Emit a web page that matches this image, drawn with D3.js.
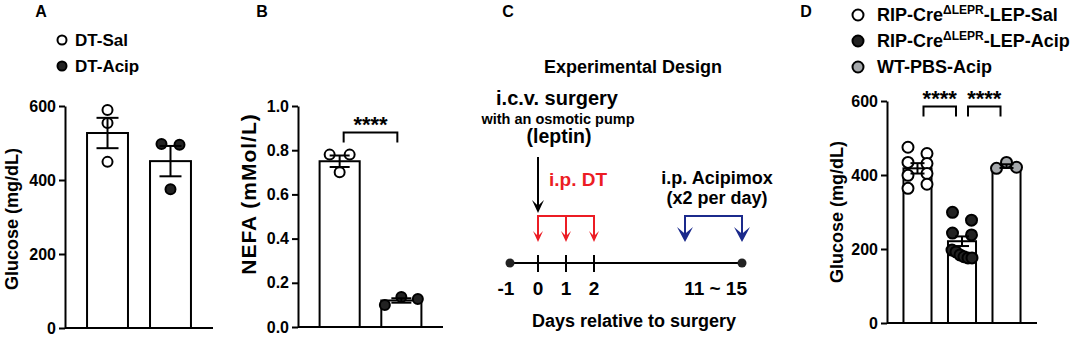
<!DOCTYPE html>
<html>
<head>
<meta charset="utf-8">
<script src="https://cdn.jsdelivr.net/npm/d3@7"></script>
<style>
  body { margin: 0; background: #fff; }
  svg { font-family: "Liberation Sans", Arial, sans-serif; font-weight: bold; }
</style>
</head>
<body>
<div id="chart"></div>
<script>
// ---- data ----
// A: glucose, DT-Sal vs DT-Acip
const groupsA = ["DT-Sal", "DT-Acip"];
const glucoseA = [[589, 554, 449], [497, 495, 375]];
const meanA = [527, 451];
const semA = [41, 41];
const ticksA = [0, 200, 400, 600];

// B: NEFA
const nefaB = [[0.78, 0.78, 0.70], [0.10, 0.136, 0.127]];
const meanB = [0.75, 0.12];
const semB = [0.026, 0.01];
const ticksB = [0, 0.2, 0.4, 0.6, 0.8, 1.0];
const sigB = [[0, 1, "****"]];

// C: timeline
const timelineEnds = [-1, 15];
const dayTicks = [0, 1, 2];
const dayLabels = [-1, 0, 1, 2];
const surgeryDay = 0;
const dtDays = [0, 1, 2];
const acipDays = [11, 15];

// D: glucose, three groups
const groupsD = ["RIP-Cre|ΔLEPR|-LEP-Sal", "RIP-Cre|ΔLEPR|-LEP-Acip", "WT-PBS-Acip"];
const glucoseD = [
  [475, 458, 434, 431, 399, 404, 364, 375],
  [299, 278, 243, 238, 197, 192, 184, 179, 176, 176],
  [418, 434, 421]
];
const meanD = [418, 221, 424];
const semD = [14, 13, 5];
const ticksD = [0, 200, 400, 600];
const sigD = [[0, 1, "****"], [1, 2, "****"]];

const width = 1074, height = 337;

const svg = d3.select("#chart")
  .append("svg")
  .attr("width", width)
  .attr("height", height)
  .attr("viewBox", [0, 0, width, height]);

// spread points of a group sideways, GraphPad style
function dodge(vals, y, r, gap, spread) {
  const order = vals.map((v, i) => i).sort((a, b) => vals[b] - vals[a]);
  const rows = [];
  let cur = null;
  order.forEach(i => {
    const py = y(vals[i]);
    if (cur && py - cur.y0 < r * 1.6) cur.items.push(i);
    else { cur = {y0: py, items: [i]}; rows.push(cur); }
  });
  const off = vals.map(() => 0);
  rows.forEach(row => {
    row.items.sort((a, b) => a - b);
    const n = row.items.length;
    const s = n > 1 ? Math.min(gap, spread / (n - 1)) : 0;
    row.items.forEach((i, k) => off[i] = (k - (n - 1) / 2) * s);
  });
  return off;
}

function barPanel(o) {
  const g = svg.append("g");
  const x = d3.scaleBand()
    .domain(d3.range(o.means.length))
    .range([o.left, o.right])
    .padding(o.pad);
  const y = d3.scaleLinear()
    .domain([0, o.max])
    .range([o.bottom, o.top]);

  // bars
  g.selectAll(".bar")
    .data(o.means)
    .join("rect")
    .attr("x", (d, i) => x(i))
    .attr("width", x.bandwidth())
    .attr("y", d => y(d))
    .attr("height", d => y(0) - y(d))
    .attr("fill", "#fff")
    .attr("stroke", "#000")
    .attr("stroke-width", 2);

  // points
  o.points.forEach((vals, i) => {
    const off = dodge(vals, y, o.r, o.gap, o.spread);
    const cx = x(i) + x.bandwidth() / 2;
    g.append("g").selectAll("circle")
      .data(vals)
      .join("circle")
      .attr("cx", (d, k) => cx + off[k])
      .attr("cy", d => y(d))
      .attr("r", o.r)
      .attr("fill", o.fills[i])
      .attr("stroke", "#000")
      .attr("stroke-width", 2);
  });

  // error bars
  o.means.forEach((m, i) => {
    const cx = x(i) + x.bandwidth() / 2;
    const lo = y(m - o.sem[i]), hi = y(m + o.sem[i]);
    const eb = g.append("g").attr("stroke", "#000").attr("stroke-width", 2);
    eb.append("line").attr("x1", cx).attr("x2", cx).attr("y1", lo).attr("y2", hi);
    eb.append("line").attr("x1", cx - o.cap).attr("x2", cx + o.cap).attr("y1", lo).attr("y2", lo);
    eb.append("line").attr("x1", cx - o.cap).attr("x2", cx + o.cap).attr("y1", hi).attr("y2", hi);
  });

  // axes
  const yAxis = g.append("g")
    .attr("transform", `translate(${o.left},0)`)
    .call(d3.axisLeft(y).tickValues(o.ticks).tickFormat(o.fmt).tickSize(6).tickSizeOuter(0).tickPadding(3));
  yAxis.select(".domain").attr("stroke-width", 2);
  yAxis.selectAll(".tick line").attr("stroke-width", 2);
  yAxis.selectAll(".tick text")
    .attr("font-size", 16)
    .attr("font-family", "Liberation Sans, Arial, sans-serif")
    .attr("font-weight", "bold")
    .attr("fill", "#000");

  g.append("line")
    .attr("x1", o.left).attr("x2", o.right)
    .attr("y1", y(0)).attr("y2", y(0))
    .attr("stroke", "#000").attr("stroke-width", 2);

  g.append("text")
    .attr("transform", `translate(${o.labelX},${o.labelY}) rotate(-90)`)
    .attr("text-anchor", "middle")
    .attr("dy", "0.35em")
    .attr("font-size", o.labelSize || 18)
    .attr("letter-spacing", o.labelSpacing || 0)
    .text(o.label);

  // significance brackets
  (o.sig || []).forEach(([a, b, t]) => {
    const x1 = x(a) + x.bandwidth() / 2 + o.inset;
    const x2 = x(b) + x.bandwidth() / 2 - o.inset;
    const yb = y(o.sigLevel);
    g.append("path")
      .attr("d", `M${x1},${yb + 10}V${yb}H${x2}V${yb + 10}`)
      .attr("fill", "none").attr("stroke", "#000").attr("stroke-width", 2);
    g.append("text")
      .attr("x", (x1 + x2) / 2).attr("y", yb - 1)
      .attr("text-anchor", "middle")
      .attr("font-size", 22)
      .text(t);
  });
  return {x, y};
}

// panel letters
svg.selectAll(".letter")
  .data([["A", 41], ["B", 262], ["C", 508], ["D", 806]])
  .join("text")
  .attr("x", d => d[1]).attr("y", 17)
  .attr("text-anchor", "middle")
  .attr("font-size", 16)
  .text(d => d[0]);

// ---- A ----
barPanel({
  left: 65, right: 213, top: 106, bottom: 328, pad: 0.35,
  max: 600, ticks: ticksA, fmt: d3.format("d"),
  means: meanA, sem: semA, points: glucoseA, fills: ["#fff", "#222"],
  r: 5, gap: 18, spread: 30, cap: 11,
  label: "Glucose (mg/dL)", labelX: 12, labelY: 219
});
const legA = svg.append("g").selectAll("g")
  .data(groupsA)
  .join("g")
  .attr("transform", (d, i) => `translate(62,${40 + i * 26})`);
legA.append("circle").attr("r", 4.5)
  .attr("fill", (d, i) => ["#fff", "#222"][i])
  .attr("stroke", "#000").attr("stroke-width", 2);
legA.append("text").attr("x", 13).attr("y", 6).attr("font-size", 17).text(d => d);

// ---- B ----
barPanel({
  left: 298, right: 443, top: 106, bottom: 327, pad: 0.35,
  max: 1.0, ticks: ticksB, fmt: d3.format(".1f"),
  means: meanB, sem: semB, points: nefaB, fills: ["#fff", "#222"],
  r: 5, gap: 20, spread: 33, cap: 10,
  label: "NEFA (mMol/L)", labelX: 249, labelY: 194, labelSize: 21, labelSpacing: 1,
  sig: sigB, sigLevel: 0.88, inset: 4
});

// ---- C: timeline ----
const red = "#ec1c24", blue = "#1b2a8c";
const t = d3.scaleLinear().domain([-1, 2, 11, 15]).range([510, 594, 685, 742]);
const C = svg.append("g");
const lineY = 263, bracketY = 216, arrowTip = 242;

function head(xc, yt, w, h) {
  return `M${xc},${yt}L${xc - w},${yt - h}L${xc},${yt - h * 0.55}L${xc + w},${yt - h}Z`;
}

C.append("text").attr("x", 633).attr("y", 73).attr("text-anchor", "middle")
  .attr("font-size", 18).text("Experimental Design");
C.append("text").attr("x", 557).attr("y", 105).attr("text-anchor", "middle")
  .attr("font-size", 20).text("i.c.v. surgery");
C.append("text").attr("x", 558).attr("y", 124).attr("text-anchor", "middle")
  .attr("font-size", 14.5).text("with an osmotic pump");
C.append("text").attr("x", 559).attr("y", 143).attr("text-anchor", "middle")
  .attr("font-size", 19.5).text("(leptin)");

// surgery arrow
C.append("line").attr("x1", t(surgeryDay)).attr("x2", t(surgeryDay))
  .attr("y1", 157).attr("y2", 208).attr("stroke", "#000").attr("stroke-width", 2);
C.append("path").attr("d", head(t(surgeryDay), 213, 6, 13)).attr("fill", "#000");

// DT injections
C.append("text").attr("x", 578).attr("y", 186).attr("text-anchor", "middle")
  .attr("font-size", 19).attr("fill", red).text("i.p. DT");
C.append("path")
  .attr("d", `M${t(dtDays[0])},${arrowTip - 6}V${bracketY}H${t(dtDays[dtDays.length - 1])}V${arrowTip - 6}`)
  .attr("fill", "none").attr("stroke", red).attr("stroke-width", 2);
C.selectAll(".dt")
  .data(dtDays)
  .join("g")
  .call(s => s.append("line")
    .attr("x1", d => t(d)).attr("x2", d => t(d))
    .attr("y1", bracketY).attr("y2", arrowTip - 6)
    .attr("stroke", red).attr("stroke-width", 2))
  .call(s => s.append("path").attr("d", d => head(t(d), arrowTip, 5, 11)).attr("fill", red));

// Acipimox
C.append("text").attr("x", 717).attr("y", 184).attr("text-anchor", "middle")
  .attr("font-size", 18).text("i.p. Acipimox");
C.append("text").attr("x", 717).attr("y", 204).attr("text-anchor", "middle")
  .attr("font-size", 18).text("(x2 per day)");
C.append("path")
  .attr("d", `M${t(acipDays[0])},${arrowTip - 8}V${bracketY}H${t(acipDays[1])}V${arrowTip - 8}`)
  .attr("fill", "none").attr("stroke", blue).attr("stroke-width", 2);
C.selectAll(".acip")
  .data(acipDays)
  .join("path")
  .attr("d", d => head(t(d), arrowTip, 8, 15))
  .attr("fill", blue);

// timeline axis
C.append("line").attr("x1", t(timelineEnds[0])).attr("x2", t(timelineEnds[1]))
  .attr("y1", lineY).attr("y2", lineY).attr("stroke", "#000").attr("stroke-width", 2);
C.selectAll(".end")
  .data(timelineEnds)
  .join("circle")
  .attr("cx", d => t(d)).attr("cy", lineY).attr("r", 4.5).attr("fill", "#222");
C.selectAll(".tk")
  .data(dayTicks)
  .join("line")
  .attr("x1", d => t(d)).attr("x2", d => t(d))
  .attr("y1", lineY - 8).attr("y2", lineY + 9)
  .attr("stroke", "#000").attr("stroke-width", 2);
C.selectAll(".dl")
  .data(dayLabels)
  .join("text")
  .attr("x", d => t(d) - (d < 0 ? 4 : 0)).attr("y", 295)
  .attr("text-anchor", "middle")
  .attr("font-size", 19)
  .text(d => d);
C.append("text").attr("x", t(timelineEnds[1]) + 5).attr("y", 295)
  .attr("text-anchor", "end").attr("font-size", 19)
  .text(`${acipDays[0]} ~ ${acipDays[1]}`);
C.append("text").attr("x", 634).attr("y", 327).attr("text-anchor", "middle")
  .attr("font-size", 18).text("Days relative to surgery");

// ---- D ----
const fillsD = ["#fff", "#222", "#a5a8ab"];
barPanel({
  left: 887, right: 1037, top: 101, bottom: 323, pad: 0.37,
  max: 600, ticks: ticksD, fmt: d3.format("d"),
  means: meanD, sem: semD, points: glucoseD, fills: fillsD,
  r: 5.5, gap: 19, spread: 20, cap: 7,
  label: "Glucose (mg/dL)", labelX: 837, labelY: 212,
  sig: sigD, sigLevel: 585, inset: 6
});
const legD = svg.append("g").selectAll("g")
  .data(groupsD)
  .join("g")
  .attr("transform", (d, i) => `translate(858,${15 + i * 26})`);
legD.append("circle").attr("r", 5.5)
  .attr("fill", (d, i) => fillsD[i])
  .attr("stroke", "#000").attr("stroke-width", 2);
legD.each(function(d) {
  const parts = d.split("|");
  const tx = d3.select(this).append("text").attr("x", 19).attr("y", 6).attr("font-size", 18);
  parts.forEach((p, k) => {
    const sp = tx.append("tspan").text(p);
    if (k === 1) sp.attr("font-size", 12).attr("dy", -7);
    if (k === 2) sp.attr("dy", 7);
  });
});
</script>
</body>
</html>
